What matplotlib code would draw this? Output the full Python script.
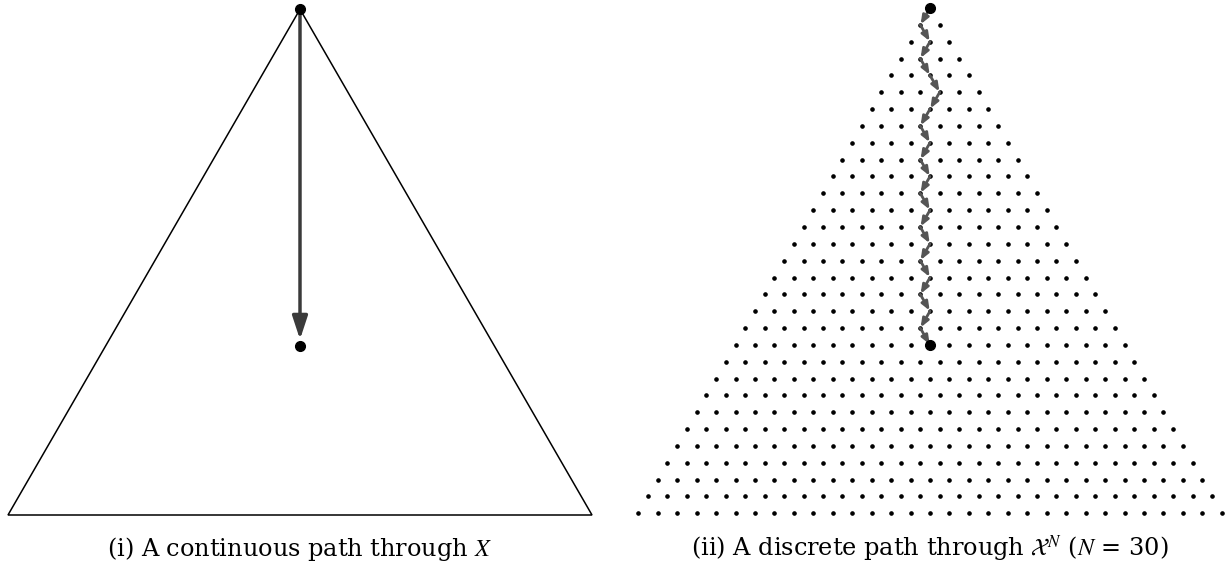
import numpy as np
import matplotlib.pyplot as plt
from matplotlib.patches import Polygon, FancyArrowPatch

plt.rcParams['font.family'] = ['DejaVu Serif']
plt.rcParams['mathtext.fontset'] = 'stix'

# lattice size and the discrete walk (-1 = step down-left, +1 = step down-right)
N = 30
path_steps = [-1, 1, -1, 1, 1, -1, -1, 1, -1, 1, -1, 1, -1, 1, -1, 1, -1, 1, -1, 1]
captions = [r'(i) A continuous path through $X$',
            r'(ii) A discrete path through $\mathcal{X}^N$ ($N$ = 30)']

h = np.sqrt(3) / 2
tri = np.array([[0, 0], [1, 0], [0.5, h]])
centroid = tri.mean(axis=0)

W, H = 1228, 573
fig = plt.figure(figsize=(W / 100, H / 100), dpi=100)

# left panel: unit triangle, 584 px per unit
s1 = 584.0
ax1 = fig.add_axes([0, 0, 0.5, 1])
ax1.set_xlim(-8 / s1, (614 - 8) / s1)
ax1.set_ylim(-58 / s1, (H - 58) / s1)
ax1.axis('off')
ax1.add_patch(Polygon(tri, closed=True, fill=False, edgecolor='black', lw=1.1))
ax1.add_patch(FancyArrowPatch(tri[2], centroid, arrowstyle='-|>,head_length=14,head_width=4.6',
                              mutation_scale=1, color='#3a3a3a', lw=2.5,
                              shrinkA=0, shrinkB=5, zorder=3))
ax1.plot([tri[2][0], centroid[0]], [tri[2][1], centroid[1]], 'o', color='black', ms=7, zorder=4)
ax1.text(0.5, -(556 - 515) / s1, captions[0], ha='center', va='baseline', fontsize=17.3)

# right panel: triangular lattice, spacing 19.45 px, apex at origin
s2 = 19.45
ax2 = fig.add_axes([0.5, 0, 0.5, 1])
ax2.set_xlim((614 - 930) / s2, (W - 930) / s2)
ax2.set_ylim(-(H - 8) / s2, 8 / s2)
ax2.axis('off')

lx, ly = [], []
for r in range(N + 1):
    for k in range(r + 1):
        lx.append(k - r / 2)
        ly.append(-r * h)
ax2.plot(lx, ly, 'o', color='black', ms=2.3, zorder=2)

px = np.concatenate([[0], np.cumsum(path_steps) * 0.5])
py = -np.arange(len(px)) * h
for i in range(len(path_steps)):
    ax2.add_patch(FancyArrowPatch((px[i], py[i]), (px[i + 1], py[i + 1]),
                                  arrowstyle='-|>,head_length=5,head_width=2.0',
                                  mutation_scale=1, color='#555555', lw=2.0,
                                  shrinkA=0, shrinkB=0.5, zorder=3))
ax2.plot([px[0], px[-1]], [py[0], py[-1]], 'o', color='black', ms=7, zorder=4)
ax2.text(0, -(556 - 8) / s2, captions[1], ha='center', va='baseline', fontsize=17.3)

fig.savefig('out.png', dpi=100)
